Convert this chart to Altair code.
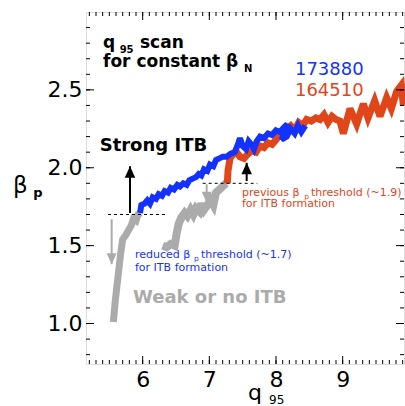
import altair as alt
import pandas as pd

# ---------------- data ----------------
# shot 173880 (blue), strong-ITB phase
blue_q = [5.96, 5.98, 6.03, 6.07, 6.11, 6.15, 6.20, 6.24, 6.29, 6.33, 6.38, 6.42, 6.47, 6.52,
          6.56, 6.61, 6.66, 6.70, 6.75, 6.80, 6.84, 6.88, 6.92, 6.97, 7.01, 7.06, 7.10, 7.15,
          7.20, 7.26, 7.32, 7.38, 7.42, 7.46, 7.50, 7.55, 7.59, 7.63, 7.67, 7.71, 7.76, 7.82,
          7.88, 7.94, 8.00, 8.06, 8.12, 8.17, 8.13, 8.08, 8.16, 8.22, 8.28, 8.33, 8.38, 8.44]
blue_bp = [1.71, 1.76, 1.77, 1.79, 1.77, 1.81, 1.80, 1.83, 1.82, 1.85, 1.84, 1.87, 1.86, 1.89,
           1.88, 1.90, 1.89, 1.92, 1.93, 1.94, 1.96, 1.95, 1.99, 1.98, 2.02, 2.01, 2.05, 2.06,
           2.07, 2.07, 2.09, 2.10, 2.14, 2.19, 2.14, 2.12, 2.17, 2.15, 2.12, 2.17, 2.20, 2.19,
           2.22, 2.21, 2.24, 2.23, 2.26, 2.28, 2.22, 2.18, 2.20, 2.25, 2.22, 2.27, 2.23, 2.27]

# shot 164510 (red)
red_q = [7.27, 7.28, 7.31, 7.36, 7.41, 7.46, 7.52, 7.58, 7.64, 7.70, 7.76, 7.82, 7.88, 7.94,
         8.00, 8.05, 8.10, 8.16, 8.22, 8.28, 8.34, 8.40, 8.46, 8.53, 8.60, 8.66, 8.72, 8.78,
         8.84, 8.90, 8.96, 9.01, 9.11, 9.21, 9.31, 9.38, 9.48, 9.56, 9.66, 9.73, 9.81, 9.88, 9.91]
red_bp = [1.90, 1.98, 2.06, 2.09, 2.10, 2.07, 2.06, 2.09, 2.11, 2.10, 2.14, 2.13, 2.16, 2.15,
          2.18, 2.21, 2.20, 2.25, 2.27, 2.24, 2.29, 2.27, 2.31, 2.30, 2.32, 2.31, 2.34, 2.29,
          2.33, 2.31, 2.30, 2.22, 2.38, 2.28, 2.41, 2.32, 2.43, 2.33, 2.45, 2.38, 2.49, 2.53, 2.40]

# weak / no ITB phases (gray)
gray1_q = [5.56, 5.59, 5.63, 5.67, 5.70, 5.75, 5.79, 5.83, 5.86, 5.90, 5.93, 5.97]
gray1_bp = [1.01, 1.15, 1.30, 1.45, 1.54, 1.57, 1.60, 1.63, 1.67, 1.66, 1.70, 1.71]
gray2_q = [6.30, 6.36, 6.42, 6.48, 6.51, 6.54, 6.58, 6.63, 6.67, 6.72, 6.76, 6.80, 6.85,
           6.88, 6.92, 6.97, 7.02, 7.06, 7.10, 7.15, 7.20, 7.25, 7.27]
gray2_bp = [1.50, 1.49, 1.51, 1.50, 1.58, 1.64, 1.68, 1.71, 1.69, 1.73, 1.70, 1.74, 1.72,
            1.77, 1.73, 1.76, 1.79, 1.76, 1.84, 1.86, 1.88, 1.90, 1.90]

# thresholds (dashed)
thr_x1 = [5.48, 6.90]
thr_x2 = [6.38, 7.72]
thr_y = [1.70, 1.90]

# arrows
up_x = [5.81, 7.56]
up_tail = [1.71, 1.915]
up_tip = [2.01, 2.032]
down_x = [5.535, 6.96]
down_tail = [1.669, 1.894]
down_tip = [1.381, 1.776]

X_DOM = [5.15, 9.92]
Y_DOM = [0.74, 3.0]
x_major = [6, 7, 8, 9]
y_major = [1.0, 1.5, 2.0, 2.5]
x_minor = [round(5.2 + 0.1 * i, 1) for i in range(48)]
y_minor = [round(0.8 + 0.1 * i, 1) for i in range(22)]

# ---------------- styling ----------------
W, H = 318, 352
FONT = "DejaVu Sans"
BLUE = "#1432ff"
RED = "#e0461a"
GRAY = "#ababab"

xs = alt.Scale(domain=X_DOM, nice=False, zero=False)
ys = alt.Scale(domain=Y_DOM, nice=False, zero=False)

lab_x = alt.Axis(orient="bottom", values=x_major, ticks=False, domain=False, grid=False,
                 title=None, labelFont=FONT, labelFontSize=22, labelColor="black",
                 labelPadding=5, labelFlush=False, labelOverlap=False)
lab_y = alt.Axis(orient="left", values=y_major, format=".1f", ticks=False, domain=False,
                 grid=False, title=None, labelFont=FONT, labelFontSize=22,
                 labelColor="black", labelPadding=4, labelOverlap=False)


def series(q, b, color, width, x_axis=None, y_axis=None):
    df = pd.DataFrame({"q": q, "bp": b, "i": list(range(len(q)))})
    return alt.Chart(df).mark_line(color=color, strokeWidth=width, strokeJoin="miter",
                                   strokeMiterLimit=3).encode(
        x=alt.X("q:Q", scale=xs, axis=x_axis),
        y=alt.Y("bp:Q", scale=ys, axis=y_axis),
        order="i:Q")


def label(t, x, y, size, color, weight="normal"):
    df = pd.DataFrame({"x": [x], "y": [y], "t": [t]})
    return alt.Chart(df).mark_text(align="left", baseline="alphabetic", font=FONT,
                                   fontSize=size, fontWeight=weight, color=color).encode(
        x=alt.X("x:Q", scale=xs, axis=None),
        y=alt.Y("y:Q", scale=ys, axis=None),
        text="t:N")


def x_ticks(values, edge, length, inward):
    df = pd.DataFrame({"q": values, "e": [edge] * len(values)})
    return alt.Chart(df).mark_tick(orient="vertical", size=length, thickness=1,
                                   color="black", opacity=1,
                                   yOffset=inward * length / 2).encode(
        x=alt.X("q:Q", scale=xs, axis=None), y=alt.Y("e:Q", scale=ys, axis=None))


def y_ticks(values, edge, length, inward):
    df = pd.DataFrame({"b": values, "e": [edge] * len(values)})
    return alt.Chart(df).mark_tick(orient="horizontal", size=length, thickness=1,
                                   color="black", opacity=1,
                                   xOffset=inward * length / 2).encode(
        x=alt.X("e:Q", scale=xs, axis=None), y=alt.Y("b:Q", scale=ys, axis=None))


ticks = [
    x_ticks(x_minor, Y_DOM[0], 4, -1), x_ticks(x_minor, Y_DOM[1], 4, 1),
    x_ticks(x_major, Y_DOM[0], 8, -1), x_ticks(x_major, Y_DOM[1], 8, 1),
    y_ticks(y_minor, X_DOM[0], 4, 1), y_ticks(y_minor, X_DOM[1], 4, -1),
    y_ticks(y_major, X_DOM[0], 8, 1), y_ticks(y_major, X_DOM[1], 8, -1),
]

gray1 = series(gray1_q, gray1_bp, GRAY, 7, lab_x, lab_y)
gray2 = series(gray2_q, gray2_bp, GRAY, 8)
red = series(red_q, red_bp, RED, 7)
blue = series(blue_q, blue_bp, BLUE, 6)

thr = alt.Chart(pd.DataFrame({"x1": thr_x1, "x2": thr_x2, "y": thr_y})).mark_rule(
    color="black", strokeWidth=1, strokeDash=[3, 3]).encode(
    x=alt.X("x1:Q", scale=xs, axis=None), x2="x2:Q",
    y=alt.Y("y:Q", scale=ys, axis=None))

up_df = pd.DataFrame({"x": up_x, "t0": up_tail, "t1": up_tip})
down_df = pd.DataFrame({"x": down_x, "t0": down_tail, "t1": down_tip})
UP_HEAD = "M0,0L-1,2.2L1,2.2Z"
DOWN_HEAD = "M0,0L-1,-2.2L1,-2.2Z"

up_shaft = alt.Chart(up_df).mark_rule(color="black", strokeWidth=2).encode(
    x=alt.X("x:Q", scale=xs, axis=None), y=alt.Y("t0:Q", scale=ys, axis=None), y2="t1:Q")
up_head = alt.Chart(up_df).mark_point(shape=UP_HEAD, filled=True, size=110, color="black",
                                      opacity=1).encode(
    x=alt.X("x:Q", scale=xs, axis=None), y=alt.Y("t1:Q", scale=ys, axis=None))
down_shaft = alt.Chart(down_df).mark_rule(color=GRAY, strokeWidth=2).encode(
    x=alt.X("x:Q", scale=xs, axis=None), y=alt.Y("t0:Q", scale=ys, axis=None), y2="t1:Q")
down_head = alt.Chart(down_df).mark_point(shape=DOWN_HEAD, filled=True, size=100, color=GRAY,
                                          opacity=1).encode(
    x=alt.X("x:Q", scale=xs, axis=None), y=alt.Y("t1:Q", scale=ys, axis=None))

texts = [
    label("q", 5.405, 2.767, 17, "black", "bold"),
    label("95", 5.655, 2.735, 10, "black", "bold"),
    label("scan", 5.96, 2.767, 17, "black", "bold"),
    label("for constant β", 5.405, 2.646, 17, "black", "bold"),
    label("N", 7.52, 2.614, 10, "black", "bold"),
    label("173880", 8.284, 2.597, 18, BLUE),
    label("164510", 8.284, 2.463, 18, RED),
    label("Strong ITB", 5.355, 2.107, 18, "black", "bold"),
    label("previous β", 7.489, 1.819, 11, RED),
    label("p", 8.425, 1.799, 7.5, RED),
    label("threshold (~1.9)", 8.525, 1.819, 11, RED),
    label("for ITB formation", 7.489, 1.748, 11, RED),
    label("reduced β", 5.885, 1.418, 11, BLUE),
    label("p", 6.77, 1.399, 7.5, BLUE),
    label("threshold  (~1.7)", 6.875, 1.418, 11, BLUE),
    label("for ITB formation", 5.885, 1.338, 11, BLUE),
    label("Weak or no ITB", 5.855, 1.129, 18, GRAY, "bold"),
    label("β", 4.055, 1.838, 23, "black"),
    label("p", 4.36, 1.812, 13, "black", "bold"),
    label("q", 7.579, 0.511, 22, "black"),
    label("95", 7.895, 0.485, 12, "black"),
]

chart = alt.layer(
    gray1, gray2, red, blue, thr, up_shaft, up_head, down_shaft, down_head, *ticks, *texts
).resolve_axis(x="independent", y="independent").properties(
    width=W, height=H,
    autosize=alt.AutoSizeParams(type="none"),
    padding={"left": 86, "top": 12, "right": 1, "bottom": 42},
).configure_view(stroke="black", strokeWidth=2).configure(background="white")

chart.save("out.html", embed_options={"renderer": "svg", "actions": False})
